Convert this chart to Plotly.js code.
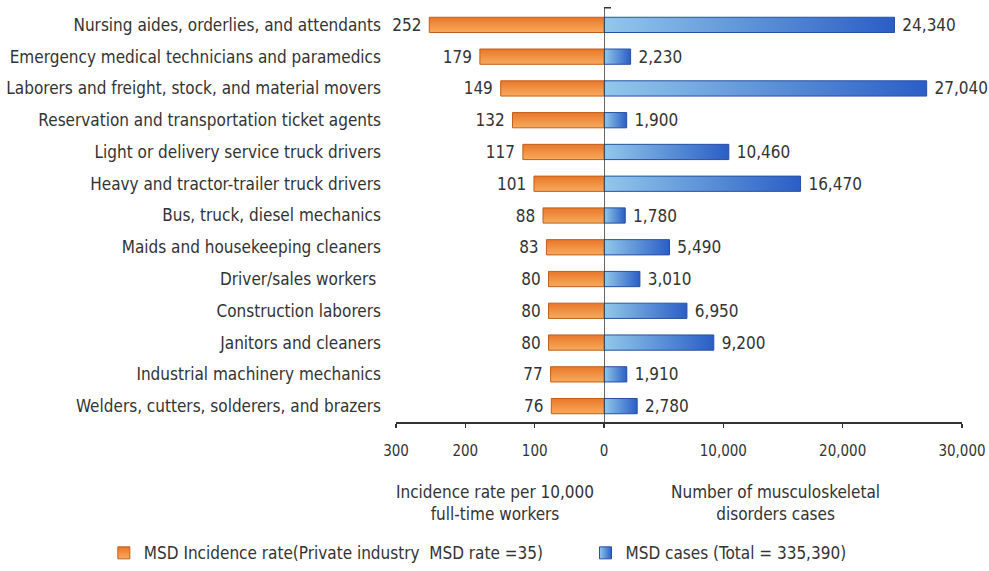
<!DOCTYPE html>
<html>
<head>
<meta charset="utf-8">
<script src="https://cdn.plot.ly/plotly-3.0.1.min.js"></script>
<style>
html,body{margin:0;padding:0;background:#fff;}
#chart{width:989px;height:571px;}
</style>
</head>
<body>
<div id="chart"></div>
<script>
const occupations = [
  "Nursing aides, orderlies, and attendants",
  "Emergency medical technicians and paramedics",
  "Laborers and freight, stock, and material movers",
  "Reservation and transportation ticket agents",
  "Light or delivery service truck drivers",
  "Heavy and tractor-trailer truck drivers",
  "Bus, truck, diesel mechanics",
  "Maids and housekeeping cleaners",
  "Driver/sales workers ",
  "Construction laborers",
  "Janitors and cleaners",
  "Industrial machinery mechanics",
  "Welders, cutters, solderers, and brazers"
];
const incidenceRate = [252, 179, 149, 132, 117, 101, 88, 83, 80, 80, 80, 77, 76];
const msdCases = [24340, 2230, 27040, 1900, 10460, 16470, 1780, 5490, 3010, 6950, 9200, 1910, 2780];
const rateTicks = [300, 200, 100, 0];
const rateTickText = ["300", "200", "100", "0"];
const caseTicks = [0, 10000, 20000, 30000];
const caseTickText = ["", "10,000", "20,000", "30,000"];
const rateName = "MSD Incidence rate(Private industry  MSD rate =35)";
const casesName = "MSD cases (Total = 335,390)";
const rateTitle = "Incidence rate per 10,000<br>full-time workers";
const casesTitle = "Number of musculoskeletal<br>disorders cases";

const FONT = "'Liberation Sans Narrow', 'DejaVu Sans Condensed', 'Roboto Condensed', 'Liberation Sans', sans-serif";
const ORANGE = "rgb(240, 140, 58)";
const BLUE = "rgb(86, 146, 214)";
const split = 208 / 566;

const traces = [
  {
    type: "bar", orientation: "h", name: rateName, legend: "legend",
    y: occupations, x: incidenceRate, xaxis: "x", yaxis: "y",
    width: 0.48,
    marker: {color: ORANGE, line: {color: "rgb(190, 95, 30)", width: 1}},
    texttemplate: "%{x}\u00a0", textposition: "outside", cliponaxis: false,
    constraintext: "none",
    textfont: {family: FONT, size: 17, color: "#333"},
    hoverinfo: "x+y"
  },
  {
    type: "bar", orientation: "h", name: casesName, legend: "legend2",
    y: occupations, x: msdCases, xaxis: "x2", yaxis: "y",
    width: 0.48,
    marker: {color: BLUE, line: {color: "rgb(40, 80, 160)", width: 1}},
    texttemplate: "\u00a0%{x:,}", textposition: "outside", cliponaxis: false,
    constraintext: "none",
    textfont: {family: FONT, size: 17, color: "#333"},
    hoverinfo: "x+y"
  }
];

const legendCommon = {
  orientation: "h", xref: "container", yref: "container",
  y: 0.031, xanchor: "left", yanchor: "middle",
  font: {family: FONT, size: 17, color: "#333"},
  itemwidth: 30, bgcolor: "rgba(0,0,0,0)"
};

const layout = {
  width: 989, height: 571,
  margin: {l: 396, r: 27, t: 9, b: 149},
  paper_bgcolor: "#fff", plot_bgcolor: "#fff",
  font: {family: FONT, size: 16, color: "#333"},
  showlegend: true,
  legend: Object.assign({}, legendCommon, {x: 0.105}),
  legend2: Object.assign({}, legendCommon, {x: 0.592}),
  xaxis: {
    domain: [0, split], range: [300, 0], anchor: "y",
    tickvals: rateTicks, ticktext: rateTickText,
    showline: true, linecolor: "#333", linewidth: 1.5,
    ticks: "outside", ticklen: 4, tickcolor: "#333", tickwidth: 1.5,
    ticklabelstandoff: 10,
    showgrid: false, zeroline: false, fixedrange: true,
    tickfont: {family: FONT, size: 15, color: "#333"}
  },
  xaxis2: {
    domain: [split, 1], range: [0, 30000], anchor: "y",
    tickvals: caseTicks, ticktext: caseTickText,
    showline: true, linecolor: "#333", linewidth: 1.5,
    ticks: "outside", ticklen: 4, tickcolor: "#333", tickwidth: 1.5,
    ticklabelstandoff: 10,
    showgrid: false, zeroline: false, fixedrange: true,
    tickfont: {family: FONT, size: 15, color: "#333"}
  },
  yaxis: {
    type: "category", autorange: "reversed", anchor: "x",
    showline: false, ticks: "", showgrid: false, zeroline: false,
    ticklabelstandoff: 14, fixedrange: true,
    tickfont: {family: FONT, size: 17, color: "#333"}
  },
  shapes: [
    {type: "line", xref: "x2", yref: "paper", x0: 0, x1: 0, y0: 0, y1: 1.003,
     line: {color: "#333", width: 1.5}},
    {type: "line", xref: "x2", yref: "paper", xsizemode: "pixel", xanchor: 0,
     x0: -7, x1: 7, y0: 1.003, y1: 1.003, line: {color: "#333", width: 1.5}}
  ],
  annotations: [
    {xref: "paper", yref: "paper", x: (495 - 396) / 566, y: -0.14, xanchor: "center", yanchor: "top",
     text: rateTitle, showarrow: false, font: {family: FONT, size: 17, color: "#333"}},
    {xref: "paper", yref: "paper", x: (775 - 396) / 566, y: -0.14, xanchor: "center", yanchor: "top",
     text: casesTitle, showarrow: false, font: {family: FONT, size: 17, color: "#333"}}
  ]
};

const gd = document.getElementById("chart");
Plotly.newPlot(gd, traces, layout, {displayModeBar: false, staticPlot: true}).then(function () {
  const NS = "http://www.w3.org/2000/svg";
  const svg = gd.querySelector(".main-svg");
  let defs = svg.querySelector("defs");
  if (!defs) { defs = document.createElementNS(NS, "defs"); svg.insertBefore(defs, svg.firstChild); }
  function grad(id, x2, y2, stops) {
    const g = document.createElementNS(NS, "linearGradient");
    g.setAttribute("id", id);
    g.setAttribute("x1", "0"); g.setAttribute("y1", "0");
    g.setAttribute("x2", x2); g.setAttribute("y2", y2);
    stops.forEach(function (s) {
      const st = document.createElementNS(NS, "stop");
      st.setAttribute("offset", s[0]); st.setAttribute("stop-color", s[1]);
      g.appendChild(st);
    });
    defs.appendChild(g);
  }
  grad("gradOrange", "0", "1", [["0", "#e9772a"], ["1", "#f7ab5c"]]);
  grad("gradBlue", "1", "0", [["0", "#92c8ea"], ["1", "#2a5ec6"]]);
  gd.querySelectorAll("path").forEach(function (p) {
    const f = p.style.fill.replace(/\s/g, "");
    if (f === ORANGE.replace(/\s/g, "")) p.style.fill = "url(#gradOrange)";
    else if (f === BLUE.replace(/\s/g, "")) p.style.fill = "url(#gradBlue)";
  });
});
</script>
</body>
</html>
